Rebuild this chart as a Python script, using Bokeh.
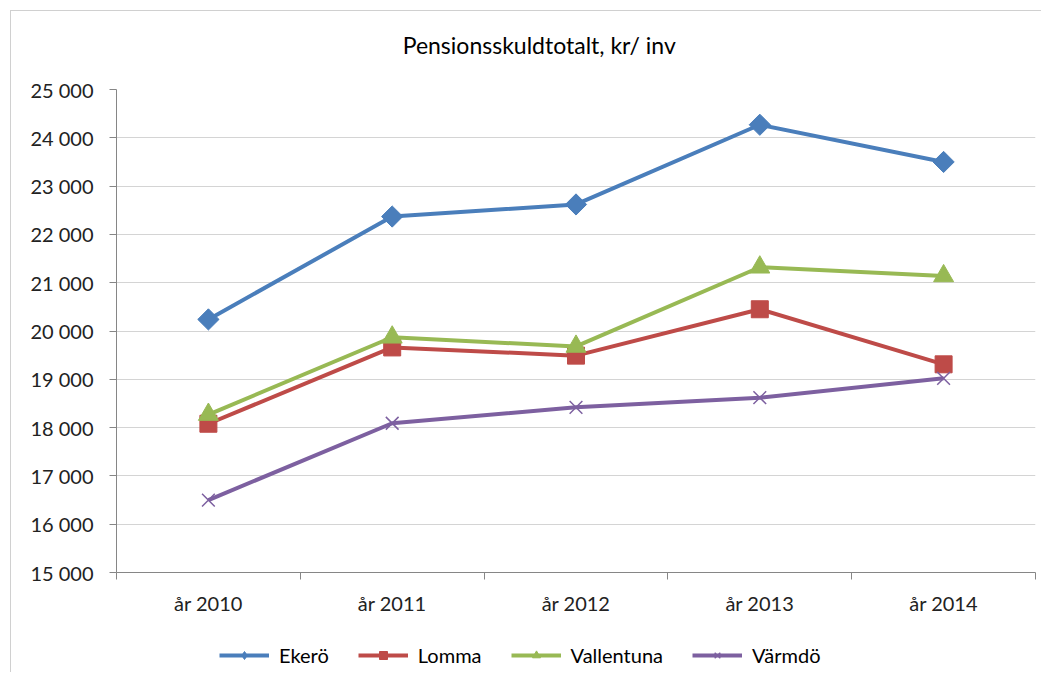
import math
from bokeh.plotting import figure
from bokeh.layouts import column
from bokeh.models import FixedTicker, Legend, LegendItem, Range1d, Label
from bokeh.embed import file_html
from bokeh.resources import INLINE

title = "Pensionsskuldtotalt, kr/ inv"
years = ["år 2010", "år 2011", "år 2012", "år 2013", "år 2014"]
ekero = [20240, 22370, 22620, 24270, 23500]
lomma = [18080, 19660, 19490, 20450, 19310]
vallentuna = [18270, 19870, 19680, 21320, 21140]
varmdo = [16500, 18090, 18420, 18620, 19020]
y_ticks = [15000, 16000, 17000, 18000, 19000, 20000, 21000, 22000, 23000, 24000, 25000]

FONT = "Lato"
x = list(range(1, len(years) + 1))
xr = (0.5, len(years) + 0.5)

# title strip
head = figure(width=1030, height=64, x_range=Range1d(*xr), y_range=Range1d(0, 64),
              output_backend="svg", toolbar_location=None, x_axis_type=None, y_axis_type=None,
              min_border_left=0, min_border_right=0, min_border_top=0, min_border_bottom=0)
head.outline_line_color = None
head.grid.visible = False
head.add_layout(Label(x=2.8, y=31, text=title, text_align="center", text_baseline="middle",
                      text_font=FONT, text_font_size="23px", text_color="#000000"))

p = figure(width=1030, height=547, x_range=Range1d(*xr),
           y_range=Range1d(y_ticks[0], y_ticks[-1]),
           output_backend="svg", toolbar_location=None,
           min_border_left=105, min_border_right=6, min_border_top=14, min_border_bottom=50)
p.outline_line_color = None
p.background_fill_color = "white"
p.border_fill_color = "white"

# y axis
p.yaxis.ticker = FixedTicker(ticks=y_ticks)
p.yaxis.major_label_overrides = {v: f"{v:,}".replace(",", " ") for v in y_ticks}
p.yaxis.major_label_text_font = FONT
p.yaxis.major_label_text_font_size = "20px"
p.yaxis.major_label_text_color = "#222222"
p.yaxis.axis_line_color = "#868686"
p.yaxis.major_tick_line_color = "#868686"
p.yaxis.major_tick_out = 7
p.yaxis.major_tick_in = 0
p.yaxis.minor_tick_line_color = None
p.yaxis.major_label_standoff = 16
p.ygrid.grid_line_color = "#d4d4d4"
p.ygrid.ticker = FixedTicker(ticks=y_ticks)

# x axis
bounds = [i + 0.5 for i in range(0, len(years) + 1)]
p.xaxis.ticker = FixedTicker(ticks=x, minor_ticks=bounds)
p.xaxis.major_label_overrides = {xi: lab for xi, lab in zip(x, years)}
p.xaxis.major_label_text_font = FONT
p.xaxis.major_label_text_font_size = "20px"
p.xaxis.major_label_text_color = "#222222"
p.xaxis.axis_line_color = "#868686"
p.xaxis.major_tick_line_color = None
p.xaxis.major_tick_out = 0
p.xaxis.major_tick_in = 0
p.xaxis.minor_tick_line_color = "#868686"
p.xaxis.minor_tick_out = 7
p.xaxis.minor_tick_in = 0
p.xaxis.major_label_standoff = 11
p.xgrid.grid_line_color = None

# name, values, colour, marker (plot), size, angle, marker (legend), legend size
series = [
    ("Ekerö", ekero, "#4a7ebb", "square", 15, math.pi / 4, "diamond", 15),
    ("Lomma", lomma, "#be4b48", "square", 17, 0.0, "square", 14),
    ("Vallentuna", vallentuna, "#98b954", "triangle", 20, 0.0, "triangle", 14),
    ("Värmdö", varmdo, "#7d60a0", "x", 18, 0.0, "x", 16),
]

# legend strip below the chart (its renderers lie outside its own view)
leg = figure(width=1030, height=50, x_range=Range1d(-10, -9), y_range=Range1d(-10, -9),
             output_backend="svg", toolbar_location=None, x_axis_type=None, y_axis_type=None,
             min_border_left=0, min_border_right=0, min_border_top=0, min_border_bottom=0)
leg.outline_line_color = None
leg.grid.visible = False

items = []
for name, vals, color, marker, size, ang, lmarker, lsize in series:
    p.line(x, vals, line_color=color, line_width=4)
    if marker == "x":
        p.scatter(x, vals, marker=marker, size=size, line_color=color, line_width=1.5)
    else:
        p.scatter(x, vals, marker=marker, size=size, angle=ang, fill_color=color, line_color=color)
    l1 = leg.line(x, vals, line_color=color, line_width=4)
    if lmarker == "x":
        l2 = leg.scatter(x, vals, marker=lmarker, size=lsize, line_color=color, line_width=1.5)
    else:
        l2 = leg.scatter(x, vals, marker=lmarker, size=lsize, fill_color=color, line_color=color)
    items.append(LegendItem(label=name, renderers=[l1, l2]))

legend = Legend(items=items, orientation="horizontal", location=(103, 5),
                label_text_font=FONT, label_text_font_size="20px", label_text_color="#000000",
                glyph_width=50, glyph_height=20, label_standoff=10, spacing=29,
                border_line_color=None, background_fill_alpha=0, padding=0, margin=0)
leg.add_layout(legend, "center")

layout = column(head, p, leg, spacing=0)
layout.styles = {"margin-left": "10px", "margin-top": "10px",
                 "border-left": "1px solid #d0d0d0", "border-top": "1px solid #d0d0d0"}

open("out.html", "w").write(file_html(layout, INLINE))
